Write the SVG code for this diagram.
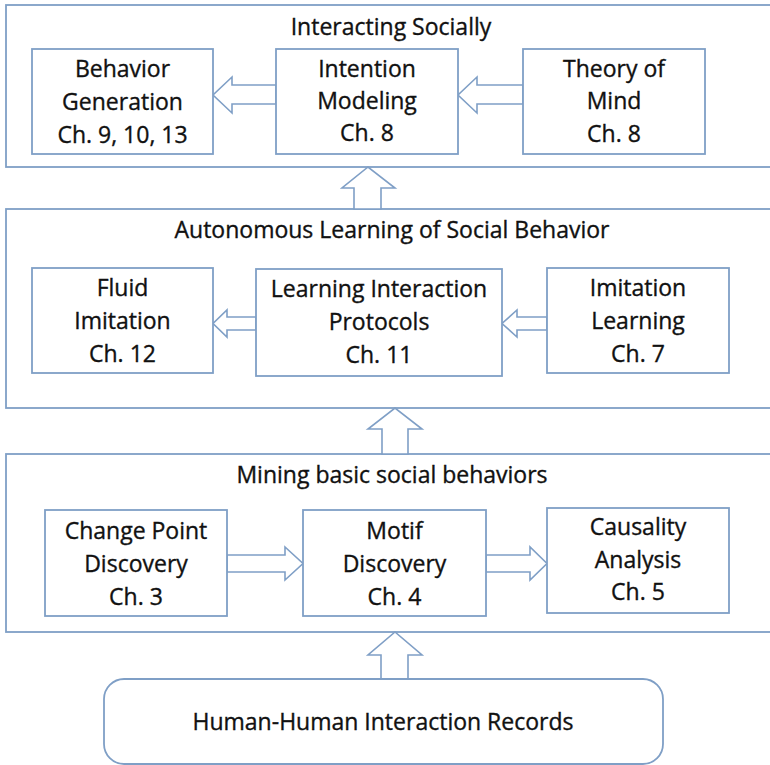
<svg xmlns="http://www.w3.org/2000/svg" width="770" height="765" viewBox="0 0 770 765">
<style>
  .box{fill:#ffffff;stroke:#7f9fc6;stroke-width:1.8}
  .arr{fill:#ffffff;stroke:#7f9fc6;stroke-width:1.6;stroke-linejoin:miter}
  text{font-family:"Open Sans","Liberation Sans",sans-serif;font-size:23px;fill:#111111;stroke:#111111;stroke-width:0.35;text-anchor:middle}
</style>
<rect x="0" y="0" width="770" height="765" fill="#ffffff"/>
<g id="layer-interacting">
  <rect class="box" x="6" y="5" width="800" height="162"/>
  <text x="391" y="35">Interacting Socially</text>
</g>
<g id="layer-autonomous">
  <rect class="box" x="6" y="209" width="800" height="199"/>
  <text x="392" y="238">Autonomous Learning of Social Behavior</text>
</g>
<g id="layer-mining">
  <rect class="box" x="6" y="454" width="800" height="178"/>
  <text x="392" y="483">Mining basic social behaviors</text>
</g>
<g id="connectors">
  <polygon class="arr" points="276,85 232,85 232,77 213,95 232,113 232,104 276,104"/>
  <polygon class="arr" points="523,85 477,85 477,77 458,95 477,113 477,104 523,104"/>
  <polygon class="arr" points="354,209 354,188 342,188 368,167 395,188 381,188 381,209"/>
  <polygon class="arr" points="256,317 227,317 227,310 213,323.5 227,337 227,330 256,330"/>
  <polygon class="arr" points="547,317 517,317 517,310 502,323.5 517,337 517,330 547,330"/>
  <polygon class="arr" points="382,454 382,429 368,429 395,408 422,429 408,429 408,454"/>
  <polygon class="arr" points="227,555 285,555 285,547 303,563.5 285,580 285,572 227,572"/>
  <polygon class="arr" points="486,555 530,555 530,547 547,563.5 530,580 530,572 486,572"/>
  <polygon class="arr" points="381,679 381,655 368,655 395,632 422,655 408,655 408,679"/>
</g>
<g id="behavior-generation">
  <rect class="box" x="32" y="49" width="181" height="105"/>
  <text x="122.5" y="77">Behavior</text>
  <text x="122.5" y="110">Generation</text>
  <text x="122.5" y="143">Ch. 9, 10, 13</text>
</g>
<g id="intention-modeling">
  <rect class="box" x="276" y="49" width="182" height="105"/>
  <text x="367" y="77">Intention</text>
  <text x="367" y="109">Modeling</text>
  <text x="367" y="141">Ch. 8</text>
</g>
<g id="theory-of-mind">
  <rect class="box" x="523" y="49" width="182" height="105"/>
  <text x="614" y="77">Theory of</text>
  <text x="614" y="109">Mind</text>
  <text x="614" y="142">Ch. 8</text>
</g>
<g id="fluid-imitation">
  <rect class="box" x="32" y="268" width="181" height="105"/>
  <text x="122.5" y="296">Fluid</text>
  <text x="122.5" y="329">Imitation</text>
  <text x="122.5" y="362">Ch. 12</text>
</g>
<g id="learning-interaction-protocols">
  <rect class="box" x="256" y="269" width="246" height="107"/>
  <text x="379" y="297">Learning Interaction</text>
  <text x="379" y="330">Protocols</text>
  <text x="379" y="363">Ch. 11</text>
</g>
<g id="imitation-learning">
  <rect class="box" x="547" y="268" width="182" height="105"/>
  <text x="638" y="296">Imitation</text>
  <text x="638" y="329">Learning</text>
  <text x="638" y="362">Ch. 7</text>
</g>
<g id="change-point-discovery">
  <rect class="box" x="45" y="510" width="182" height="106"/>
  <text x="136" y="539">Change Point</text>
  <text x="136" y="572">Discovery</text>
  <text x="136" y="605">Ch. 3</text>
</g>
<g id="motif-discovery">
  <rect class="box" x="303" y="510" width="183" height="106"/>
  <text x="394.5" y="539">Motif</text>
  <text x="394.5" y="572">Discovery</text>
  <text x="394.5" y="605">Ch. 4</text>
</g>
<g id="causality-analysis">
  <rect class="box" x="547" y="508" width="182" height="105"/>
  <text x="638" y="535">Causality</text>
  <text x="638" y="568">Analysis</text>
  <text x="638" y="600">Ch. 5</text>
</g>
<g id="human-human-records">
  <rect class="box" x="104" y="679" width="559" height="85" rx="20" ry="20"/>
  <text x="383" y="730">Human-Human Interaction Records</text>
</g>
</svg>
